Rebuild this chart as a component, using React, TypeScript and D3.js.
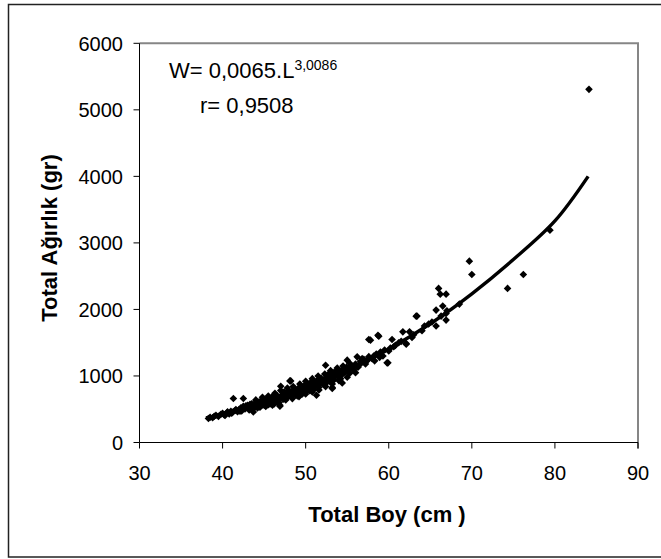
import React from "react";
import * as d3 from "d3";

// Scatter observations: [Total Boy (cm), Total Ağırlık (gr)]
const lengths: number[] = [
  38.3, 38.5, 38.8, 39.0, 39.2, 39.5, 39.8, 40.0, 40.2, 40.5, 40.8, 41.0, 41.2, 41.3, 41.5, 41.8,
  42.0, 42.2, 42.3, 42.5, 42.5, 42.7, 42.9, 43.0, 43.2, 43.4, 43.5, 43.7, 43.8, 44.0, 44.1, 44.3,
  44.5, 44.6, 44.8, 45.0, 45.0, 45.2, 45.3, 45.5, 45.6, 45.8, 46.0, 46.0, 46.2, 46.3, 46.5, 46.6,
  46.8, 46.9, 46.9, 47.0, 47.0, 47.2, 47.3, 47.5, 47.6, 47.8, 48.0, 48.1, 48.2, 48.2, 48.3, 48.5,
  48.6, 48.8, 49.0, 49.0, 49.2, 49.3, 49.5, 49.6, 49.8, 50.0, 50.0, 50.2, 50.3, 50.5, 50.6, 50.8,
  51.0, 51.0, 51.3, 51.3, 51.5, 51.7, 51.8, 52.0, 52.2, 52.4, 52.5, 52.6, 52.8, 53.0, 53.2, 53.2,
  53.3, 53.5, 53.7, 54.0, 54.2, 54.4, 54.5, 54.8, 55.0, 55.0, 55.3, 55.5, 55.8, 56.0, 56.2, 56.3,
  56.6, 57.0, 57.2, 57.6, 57.6, 57.8, 58.0, 58.3, 58.5, 58.7, 58.8, 59.0, 59.3, 59.8, 59.9, 60.0,
  60.2, 60.4, 60.8, 61.2, 61.7, 62.1, 62.1, 62.5, 62.8, 63.3, 63.4, 64.3, 64.8, 65.7, 65.7, 66.0,
  66.2, 66.5, 66.9, 66.9, 66.9, 68.5, 69.7, 70.0, 74.3, 76.2, 79.4, 84.1,
  40.3, 40.6, 41.1, 41.6, 42.1, 42.4, 42.8, 43.1, 43.3, 43.6, 43.9, 44.2, 44.4, 44.7, 44.9, 45.1,
  45.4, 45.7, 45.9, 46.1, 46.4, 46.7, 47.1, 47.4, 47.7, 47.9, 48.4, 48.7, 48.9, 49.1, 49.4, 49.7,
  49.9, 50.1, 50.4, 50.7, 50.9, 51.2, 51.4, 51.6, 51.9, 52.1, 52.3, 52.7, 52.9, 53.1, 53.4, 53.6,
  53.8, 54.1, 54.3, 54.6, 54.9, 55.2, 55.6, 56.5, 56.8, 57.4, 58.2, 58.9, 59.5, 60.6, 61.5, 63.0,
  64.0, 65.2, 66.3, 67.0,
  44.0, 44.8, 45.5, 46.3, 47.0, 47.8, 48.5, 49.3, 50.0, 50.8, 51.5, 52.3, 53.0, 53.8, 54.5, 55.3,
  45.2, 46.0, 46.8, 47.6, 48.4, 49.2, 50.0, 50.8, 51.6, 52.4, 53.2, 54.0, 55.0, 56.0,
];
const weights: number[] = [
  361, 380, 372, 395, 410, 392, 425, 440, 415, 448, 430, 470, 455, 661, 480, 462,
  500, 520, 475, 661, 545, 505, 530, 560, 490, 540, 580, 460, 520, 565, 600, 545,
  530, 620, 580, 610, 560, 640, 590, 570, 655, 600, 630, 690, 580, 660, 620, 700,
  645, 561, 546, 846, 680, 720, 650, 700, 740, 680, 710, 926, 926, 760, 690, 740,
  800, 720, 770, 700, 820, 750, 790, 730, 850, 800, 760, 870, 820, 780, 900, 840,
  880, 800, 711, 920, 860, 950, 890, 930, 870, 1162, 980, 910, 1000, 960, 827, 812,
  1050, 990, 1080, 1030, 960, 896, 1100, 1060, 1238, 1120, 1040, 1150, 1090, 1180, 1287, 1130,
  1220, 1250, 1180, 1549, 1290, 1538, 1260, 1227, 1330, 1613, 1598, 1360, 1300, 1197, 1197, 1377,
  1420, 1549, 1460, 1500, 1663, 1478, 1489, 1663, 1580, 1899, 1900, 1750, 1780, 1990, 1750, 2316,
  2230, 2050, 2230, 1940, 1840, 2080, 2726, 2526, 2316, 2526, 3192, 5308,
  405, 460, 440, 495, 470, 510, 550, 525, 575, 505, 590, 520, 610, 555, 640, 585,
  625, 580, 665, 610, 700, 660, 690, 760, 710, 770, 730, 790, 750, 810, 720, 800,
  840, 790, 860, 830, 910, 850, 890, 830, 960, 900, 950, 1020, 930, 1010, 940, 1040,
  1000, 1080, 1010, 1050, 1130, 1080, 1120, 1170, 1260, 1230, 1300, 1280, 1390, 1440, 1520, 1620,
  1680, 1810, 1900, 1980,
  640, 680, 700, 740, 780, 820, 840, 880, 920, 960, 1000, 1030, 1080, 1120, 1150, 1190,
  540, 560, 600, 640, 660, 690, 730, 760, 790, 840, 880, 930, 980, 1050,
];

// Trend curve
const curveL: number[] = [38, 40, 45, 50, 55, 60, 65, 70, 75, 80, 84];
const curveW: number[] = [370, 422, 594, 815, 1085, 1405, 1785, 2235, 2750, 3330, 4000];

const xTicks: number[] = [30, 40, 50, 60, 70, 80, 90];
const yTicks: number[] = [0, 1000, 2000, 3000, 4000, 5000, 6000];

const xTitle = "Total Boy (cm )";
const yTitle = "Total Ağırlık (gr)";
const eqMain = "W= 0,0065.L";
const eqExp = "3,0086";
const rText = "r= 0,9508";

const FONT = "'Liberation Sans', Arial, sans-serif";

export default function App() {
  const left = 139.5;
  const right = 638;
  const top = 43.3;
  const bottom = 442.5;

  const x = d3.scaleLinear().domain([30, 90]).range([left, right]);
  const y = d3.scaleLinear().domain([0, 6000]).range([bottom, top]);

  const line = d3
    .line<number>()
    .x((_, i) => x(curveL[i]))
    .y((_, i) => y(curveW[i]))
    .curve(d3.curveCatmullRom);

  const diamond = (cx: number, cy: number, r: number) =>
    `M${cx},${cy - r}L${cx + r},${cy}L${cx},${cy + r}L${cx - r},${cy}Z`;

  return (
    <svg
      width={661}
      height={559}
      style={{ position: "absolute", left: 0, top: 0, background: "#fff" }}
      fontFamily={FONT}
    >
      <rect x={0} y={0} width={661} height={559} fill="#fff" />
      {/* outer frame */}
      <rect x={8.5} y={4.5} width={700} height={552.5} fill="none" stroke="#222" strokeWidth={1.5} />

      {/* plot border top/right (gray) */}
      <path
        d={`M${left},${top}H${right}V${bottom + 6}`}
        fill="none"
        stroke="#868686"
        strokeWidth={2}
      />
      {/* axes */}
      <line x1={left} x2={left} y1={top} y2={bottom} stroke="#000" strokeWidth={1} />
      <line x1={left} x2={right} y1={bottom} y2={bottom} stroke="#000" strokeWidth={1} />

      {yTicks.map((t) => (
        <g key={"y" + t}>
          <line x1={left - 6} x2={left} y1={y(t)} y2={y(t)} stroke="#000" strokeWidth={1} />
          <text x={123} y={y(t)} dy="0.36em" textAnchor="end" fontSize={20} fill="#000">
            {t}
          </text>
        </g>
      ))}
      {xTicks.map((t) => (
        <g key={"x" + t}>
          <line x1={x(t)} x2={x(t)} y1={bottom} y2={bottom + 6} stroke="#000" strokeWidth={1} />
          <text x={x(t)} y={480} textAnchor="middle" fontSize={20} fill="#000">
            {t}
          </text>
        </g>
      ))}

      {/* points */}
      {lengths.map((l, i) => (
        <path key={"p" + i} d={diamond(x(l), y(weights[i]), 3.8)} fill="#000" />
      ))}

      {/* trend line */}
      <path d={line(curveL) || ""} fill="none" stroke="#000" strokeWidth={3.4} />

      {/* equation */}
      <text x={169} y={78} fontSize={22} fill="#000">
        {eqMain}
        <tspan fontSize={14} dy={-8}>
          {eqExp}
        </tspan>
      </text>
      <text x={200} y={113} fontSize={22} fill="#000">
        {rText}
      </text>

      {/* axis titles */}
      <text x={387} y={522} textAnchor="middle" fontSize={22} fontWeight="bold" fill="#000">
        {xTitle}
      </text>
      <text
        transform={`translate(57,238) rotate(-90)`}
        textAnchor="middle"
        fontSize={22}
        fontWeight="bold"
        fill="#000"
      >
        {yTitle}
      </text>
    </svg>
  );
}
